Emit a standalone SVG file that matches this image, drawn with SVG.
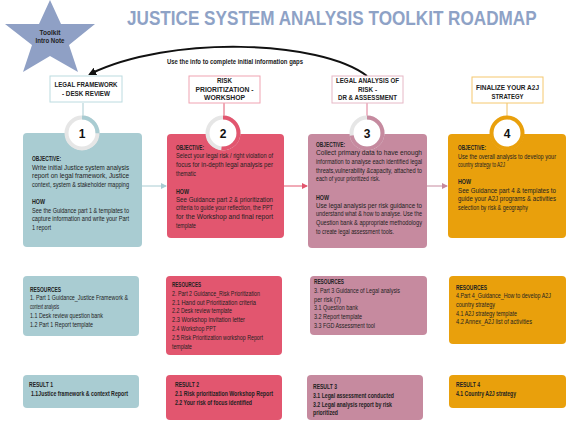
<svg xmlns="http://www.w3.org/2000/svg" width="580" height="426" viewBox="0 0 580 426">
<defs>
<style>
.t{font-family:"Liberation Sans Narrow","Liberation Sans",sans-serif;fill:#222;}
.b{font-size:6.5px;}
.h{font-size:6.6px;font-weight:bold;}
.hd{font-size:7.6px;font-weight:bold;text-anchor:middle;}
.rb{font-size:6.5px;font-weight:bold;}
.num{font-family:"Liberation Sans","Arial",sans-serif;font-size:12px;font-weight:bold;text-anchor:middle;fill:#111;}
.ring{fill:none;stroke:#e6e6e6;stroke-width:4;}
.arc{fill:none;stroke-width:4;}
</style>
<marker id="mBlk" markerWidth="8" markerHeight="8" refX="6" refY="4" orient="auto" markerUnits="userSpaceOnUse"><path d="M0,0 L8,4 L0,8 Z" fill="#111"/></marker>
<marker id="mT" markerWidth="6" markerHeight="6" refX="5" refY="3" orient="auto" markerUnits="userSpaceOnUse"><path d="M0,0 L6,3 L0,6 Z" fill="#a9ccd2"/></marker>
<marker id="mR" markerWidth="6" markerHeight="6" refX="5" refY="3" orient="auto" markerUnits="userSpaceOnUse"><path d="M0,0 L6,3 L0,6 Z" fill="#e2566f"/></marker>
<marker id="mM" markerWidth="6" markerHeight="6" refX="5" refY="3" orient="auto" markerUnits="userSpaceOnUse"><path d="M0,0 L6,3 L0,6 Z" fill="#c68a9f"/></marker>
</defs>
<rect width="580" height="426" fill="#fff"/>

<g id="title">
<text transform="translate(127,25) scale(0.76,1)" x="0" y="0" textLength="539" lengthAdjust="spacingAndGlyphs" style="font-family:'Liberation Sans',sans-serif;font-size:21px;font-weight:bold;fill:#8ea2c6">JUSTICE SYSTEM ANALYSIS TOOLKIT ROADMAP</text>
</g>

<g id="star">
<polygon points="50,0 61,24 95,24 69,45 78,72 50,56 23,72 32,45 5,24 39,24" fill="#8fa0c5"/>
<text class="t" x="50" y="35" textLength="21" lengthAdjust="spacingAndGlyphs" style="font-size:7px;font-weight:bold;text-anchor:middle">Toolkit</text>
<text class="t" x="50" y="43" textLength="29" lengthAdjust="spacingAndGlyphs" style="font-size:7px;font-weight:bold;text-anchor:middle">Intro Note</text>
</g>

<g id="connectors">
<path d="M367,76 C320,40 170,35 90,74" fill="none" stroke="#111" stroke-width="2" marker-end="url(#mBlk)"/>
<text class="t" x="167" y="64" textLength="136" lengthAdjust="spacingAndGlyphs" style="font-size:7px;font-weight:bold">Use the info to complete initial information gaps</text>
<line x1="83" y1="103" x2="83" y2="117" stroke="#a9ccd2" stroke-width="1"/>
<line x1="224" y1="103" x2="224" y2="117" stroke="#e2566f" stroke-width="1"/>
<line x1="367" y1="103" x2="367" y2="117" stroke="#e07a95" stroke-width="1"/>
<line x1="507" y1="103" x2="507" y2="117" stroke="#f0c060" stroke-width="1"/>
<line x1="142" y1="186" x2="166" y2="186" stroke="#a9ccd2" stroke-width="1" marker-end="url(#mT)"/>
<line x1="284" y1="186" x2="307" y2="186" stroke="#e2566f" stroke-width="1" marker-end="url(#mR)"/>
<line x1="427" y1="186" x2="447" y2="186" stroke="#c68a9f" stroke-width="1" marker-end="url(#mM)"/>
</g>

<g id="header1">
<rect x="50" y="76" width="72" height="26" fill="#fff" stroke="#bcdbe0" stroke-width="1"/>
<text class="t hd" x="86" y="87" textLength="63" lengthAdjust="spacingAndGlyphs">LEGAL FRAMEWORK</text>
<text class="t hd" x="86" y="96" textLength="48" lengthAdjust="spacingAndGlyphs">- DESK REVIEW</text>
</g>
<g id="header2">
<rect x="189" y="76" width="71" height="27" fill="#fff" stroke="#f0a3b2" stroke-width="1"/>
<text class="t hd" x="224.5" y="83" textLength="15" lengthAdjust="spacingAndGlyphs">RISK</text>
<text class="t hd" x="224.5" y="91.5" textLength="58" lengthAdjust="spacingAndGlyphs">PRIORITIZATION -</text>
<text class="t hd" x="224.5" y="100" textLength="41" lengthAdjust="spacingAndGlyphs">WORKSHOP</text>
</g>
<g id="header3">
<rect x="332" y="76" width="71" height="27" fill="#fff" stroke="#e6b8c6" stroke-width="1"/>
<text class="t hd" x="367.5" y="83" textLength="63" lengthAdjust="spacingAndGlyphs">LEGAL ANALYSIS OF</text>
<text class="t hd" x="367.5" y="91.5" textLength="19" lengthAdjust="spacingAndGlyphs">RISK -</text>
<text class="t hd" x="367.5" y="100" textLength="59" lengthAdjust="spacingAndGlyphs">DR &amp; ASSESSMENT</text>
</g>
<g id="header4">
<rect x="472" y="77" width="71" height="26" fill="#fff" stroke="#f5c86e" stroke-width="1"/>
<text class="t hd" x="507.5" y="90" textLength="63" lengthAdjust="spacingAndGlyphs">FINALIZE YOUR A2J</text>
<text class="t hd" x="507.5" y="98.5" textLength="32" lengthAdjust="spacingAndGlyphs">STRATEGY</text>
</g>

<g id="step1">
<rect x="23" y="133" width="119" height="114" rx="4" fill="#a9ccd2"/>
<circle cx="82" cy="133" r="17" fill="#fff"/>
<circle class="ring" cx="82" cy="133" r="15.5"/>
<circle class="arc" cx="82" cy="133" r="15.5" stroke="#a9ccd2" stroke-dasharray="24.4 100" transform="rotate(-90 82 133)"/>
<text class="num" x="82" y="137.5">1</text>
<text class="t h" x="32" y="161" textLength="29" lengthAdjust="spacingAndGlyphs">OBJECTIVE:</text>
<text class="t b" x="32" y="169.5" textLength="97" lengthAdjust="spacingAndGlyphs">Write initial Justice system analysis</text>
<text class="t b" x="32" y="178" textLength="97" lengthAdjust="spacingAndGlyphs">report on legal framework, Justice</text>
<text class="t b" x="32" y="187" textLength="97" lengthAdjust="spacingAndGlyphs">context, system &amp; stakeholder mapping</text>
<text class="t h" x="32" y="204" textLength="13" lengthAdjust="spacingAndGlyphs">HOW</text>
<text class="t b" x="32" y="212.5" textLength="97" lengthAdjust="spacingAndGlyphs">See the Guidance part 1 &amp; templates to</text>
<text class="t b" x="32" y="221" textLength="97" lengthAdjust="spacingAndGlyphs">capture information and write your Part</text>
<text class="t b" x="32" y="229.5" textLength="19" lengthAdjust="spacingAndGlyphs">1 report</text>
</g>

<g id="step2">
<rect x="167" y="134" width="117" height="104" rx="4" fill="#e2566f"/>
<circle cx="223" cy="133" r="17" fill="#fff"/>
<circle class="ring" cx="223" cy="133" r="15.5"/>
<circle class="arc" cx="223" cy="133" r="15.5" stroke="#e2566f" stroke-dasharray="50 100" transform="rotate(-90 223 133)"/>
<text class="num" x="223" y="137.5">2</text>
<text class="t h" x="176" y="149.5" textLength="28" lengthAdjust="spacingAndGlyphs">OBJECTIVE:</text>
<text class="t b" x="176" y="158" textLength="97" lengthAdjust="spacingAndGlyphs">Select your legal risk / right violation of</text>
<text class="t b" x="176" y="166.5" textLength="97" lengthAdjust="spacingAndGlyphs">focus for in-depth legal analysis per</text>
<text class="t b" x="176" y="175.5" textLength="20" lengthAdjust="spacingAndGlyphs">thematic</text>
<text class="t h" x="176" y="193.5" textLength="13" lengthAdjust="spacingAndGlyphs">HOW</text>
<text class="t b" x="176" y="201.5" textLength="97" lengthAdjust="spacingAndGlyphs">See Guidance part 2 &amp; prioritization</text>
<text class="t b" x="176" y="210" textLength="97" lengthAdjust="spacingAndGlyphs">criteria  to guide your reflection, the PPT</text>
<text class="t b" x="176" y="219" textLength="97" lengthAdjust="spacingAndGlyphs">for the Workshop and final report</text>
<text class="t b" x="176" y="227.5" textLength="20" lengthAdjust="spacingAndGlyphs">template</text>
</g>

<g id="step3">
<rect x="308" y="134" width="119" height="114" rx="4" fill="#c68a9f"/>
<circle cx="367" cy="133" r="17" fill="#fff"/>
<circle class="ring" cx="367" cy="133" r="15.5"/>
<circle class="arc" cx="367" cy="133" r="15.5" stroke="#c68a9f" stroke-dasharray="70 100" transform="rotate(-90 367 133)"/>
<text class="num" x="367" y="137.5">3</text>
<text class="t h" x="316" y="146.5" textLength="29" lengthAdjust="spacingAndGlyphs">OBJECTIVE:</text>
<text class="t b" x="316" y="155" textLength="106" lengthAdjust="spacingAndGlyphs">Collect primary data to have enough</text>
<text class="t b" x="316" y="163.5" textLength="106" lengthAdjust="spacingAndGlyphs">information to analyse each identified legal</text>
<text class="t b" x="316" y="172.5" textLength="106" lengthAdjust="spacingAndGlyphs">threats,vulnerability &amp;capacity,  attached to</text>
<text class="t b" x="316" y="181" textLength="64" lengthAdjust="spacingAndGlyphs">each of your prioritized risk.</text>
<text class="t h" x="316" y="199.5" textLength="13" lengthAdjust="spacingAndGlyphs">HOW</text>
<text class="t b" x="316" y="207.5" textLength="106" lengthAdjust="spacingAndGlyphs">Use legal analysis per risk guidance to</text>
<text class="t b" x="316" y="216" textLength="106" lengthAdjust="spacingAndGlyphs">understand what &amp; how to analyse. Use the</text>
<text class="t b" x="316" y="224.5" textLength="106" lengthAdjust="spacingAndGlyphs">Question bank &amp; appropriate methodology</text>
<text class="t b" x="316" y="233.5" textLength="78" lengthAdjust="spacingAndGlyphs">to create legal assessment tools.</text>
</g>

<g id="step4">
<rect x="448" y="134" width="118" height="104" rx="4" fill="#e9a00c"/>
<circle cx="507" cy="133" r="17" fill="#fff"/>
<circle class="arc" cx="507" cy="133" r="15.5" stroke="#e9a00c"/>
<text class="num" x="507" y="137.5">4</text>
<text class="t h" x="458" y="149.5" textLength="28" lengthAdjust="spacingAndGlyphs">OBJECTIVE:</text>
<text class="t b" x="458" y="158.5" textLength="98" lengthAdjust="spacingAndGlyphs">Use the overall analysis to develop your</text>
<text class="t b" x="458" y="167" textLength="47" lengthAdjust="spacingAndGlyphs">country strategy to A2J</text>
<text class="t h" x="458" y="183.5" textLength="13" lengthAdjust="spacingAndGlyphs">HOW</text>
<text class="t b" x="458" y="192.5" textLength="98" lengthAdjust="spacingAndGlyphs">See Guidance part 4 &amp; templates to</text>
<text class="t b" x="458" y="201" textLength="98" lengthAdjust="spacingAndGlyphs">guide your A2J programs &amp; activities</text>
<text class="t b" x="458" y="210" textLength="70" lengthAdjust="spacingAndGlyphs">selection by risk &amp; geography</text>
</g>

<g id="resources1">
<rect x="23" y="276" width="116" height="60" rx="4" fill="#a9ccd2"/>
<text class="t h" x="30" y="291.5" textLength="31" lengthAdjust="spacingAndGlyphs">RESOURCES</text>
<text class="t b" x="30" y="300" textLength="98" lengthAdjust="spacingAndGlyphs">1. Part 1 Guidance_Justice Framework &amp;</text>
<text class="t b" x="30" y="309" textLength="29" lengthAdjust="spacingAndGlyphs">context analysis</text>
<text class="t b" x="30" y="317.5" textLength="73" lengthAdjust="spacingAndGlyphs">1.1 Desk review question bank</text>
<text class="t b" x="30" y="326.5" textLength="63" lengthAdjust="spacingAndGlyphs">1.2 Part 1 Report template</text>
</g>
<g id="resources2">
<rect x="166" y="276" width="116" height="79" rx="4" fill="#e2566f"/>
<text class="t h" x="172" y="287" textLength="29" lengthAdjust="spacingAndGlyphs">RESOURCES</text>
<text class="t b" x="172" y="295.5" textLength="88" lengthAdjust="spacingAndGlyphs">2. Part 2 Guidance_Risk Prioritization</text>
<text class="t b" x="172" y="304.5" textLength="84" lengthAdjust="spacingAndGlyphs">2.1 Hand out Prioritization criteria</text>
<text class="t b" x="172" y="313" textLength="60" lengthAdjust="spacingAndGlyphs">2.2 Desk review template</text>
<text class="t b" x="172" y="322" textLength="73" lengthAdjust="spacingAndGlyphs">2.3 Workshop invitation letter</text>
<text class="t b" x="172" y="331" textLength="44" lengthAdjust="spacingAndGlyphs">2.4 Workshop PPT</text>
<text class="t b" x="172" y="339.5" textLength="91" lengthAdjust="spacingAndGlyphs">2.5 Risk Prioritization workshop Report</text>
<text class="t b" x="172" y="348.5" textLength="20" lengthAdjust="spacingAndGlyphs">template</text>
</g>
<g id="resources3">
<rect x="310" y="276" width="117" height="59" rx="4" fill="#c68a9f"/>
<text class="t h" x="314" y="284" textLength="30" lengthAdjust="spacingAndGlyphs">RESOURCES</text>
<text class="t b" x="314" y="292.5" textLength="86" lengthAdjust="spacingAndGlyphs">3. Part 3 Guidance of Legal analysis</text>
<text class="t b" x="314" y="301.5" textLength="27" lengthAdjust="spacingAndGlyphs">per risk (7)</text>
<text class="t b" x="314" y="310" textLength="44" lengthAdjust="spacingAndGlyphs">3.1 Question bank</text>
<text class="t b" x="314" y="318.5" textLength="48" lengthAdjust="spacingAndGlyphs">3.2 Report template</text>
<text class="t b" x="314" y="327.5" textLength="61" lengthAdjust="spacingAndGlyphs">3.3 FGD Assessment tool</text>
</g>
<g id="resources4">
<rect x="449" y="276" width="117" height="68" rx="4" fill="#e9a00c"/>
<text class="t h" x="456" y="290" textLength="31" lengthAdjust="spacingAndGlyphs">RESOURCES</text>
<text class="t b" x="456" y="298" textLength="95" lengthAdjust="spacingAndGlyphs">4.Part 4_Guidance_How to develop A2J</text>
<text class="t b" x="456" y="307" textLength="39" lengthAdjust="spacingAndGlyphs">country strategy</text>
<text class="t b" x="456" y="315.5" textLength="61" lengthAdjust="spacingAndGlyphs">4.1 A2J strategy template</text>
<text class="t b" x="456" y="324" textLength="76" lengthAdjust="spacingAndGlyphs">4.2 Annex_A2J list of activities</text>
</g>

<g id="result1">
<rect x="23" y="375" width="116" height="33" rx="4" fill="#a9ccd2"/>
<text class="t h" x="29" y="387" textLength="24" lengthAdjust="spacingAndGlyphs">RESULT 1</text>
<text class="t rb" x="31" y="396" textLength="97" lengthAdjust="spacingAndGlyphs">1.1Justice  framework &amp; context Report</text>
</g>
<g id="result2">
<rect x="166" y="375" width="116" height="45" rx="4" fill="#e2566f"/>
<text class="t h" x="175" y="387" textLength="24" lengthAdjust="spacingAndGlyphs">RESULT 2</text>
<text class="t rb" x="175" y="396" textLength="98" lengthAdjust="spacingAndGlyphs">2.1 Risk prioritization Workshop  Report</text>
<text class="t rb" x="175" y="404.5" textLength="77" lengthAdjust="spacingAndGlyphs">2.2 Your risk of focus identified</text>
</g>
<g id="result3">
<rect x="307" y="375" width="116" height="45" rx="4" fill="#c68a9f"/>
<text class="t h" x="313" y="389" textLength="24" lengthAdjust="spacingAndGlyphs">RESULT 3</text>
<text class="t rb" x="313" y="397.5" textLength="81" lengthAdjust="spacingAndGlyphs">3.1 Legal assessment conducted</text>
<text class="t rb" x="313" y="406.5" textLength="79" lengthAdjust="spacingAndGlyphs">3.2 Legal analysis report by risk</text>
<text class="t rb" x="313" y="415" textLength="25" lengthAdjust="spacingAndGlyphs">prioritized</text>
</g>
<g id="result4">
<rect x="449" y="375" width="117" height="33" rx="4" fill="#e9a00c"/>
<text class="t h" x="456" y="387" textLength="24" lengthAdjust="spacingAndGlyphs">RESULT 4</text>
<text class="t rb" x="456" y="396" textLength="60" lengthAdjust="spacingAndGlyphs">4.1 Country A2J strategy</text>
</g>
</svg>
